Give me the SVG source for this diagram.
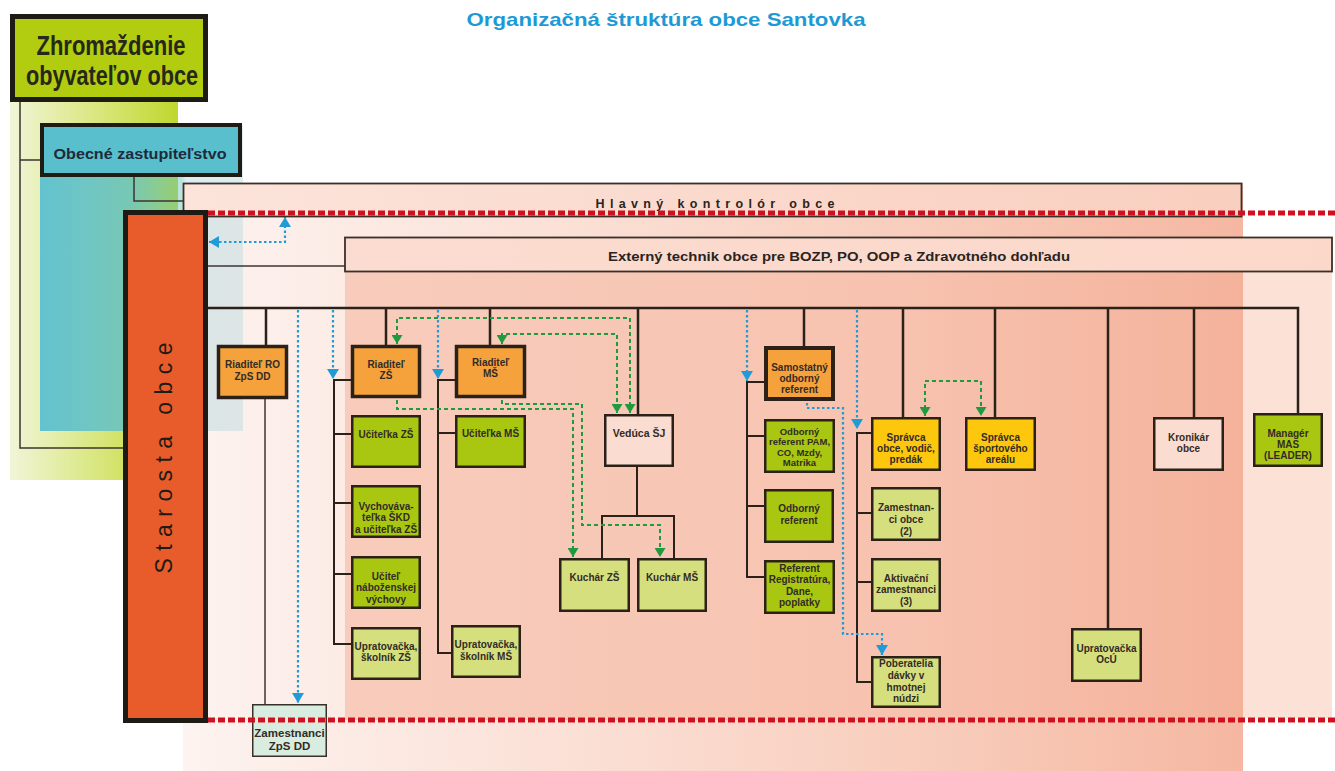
<svg xmlns="http://www.w3.org/2000/svg" width="1335" height="771" viewBox="0 0 1335 771">
<defs>
<linearGradient id="gGreen" x1="0" y1="0" x2="1" y2="0"><stop offset="0" stop-color="#f1f5d8"/><stop offset="0.55" stop-color="#d7e679"/><stop offset="1" stop-color="#bfd72e"/></linearGradient>
<linearGradient id="gTeal" x1="0" y1="0" x2="1" y2="0"><stop offset="0" stop-color="#5bc0cf" stop-opacity="0.95"/><stop offset="0.45" stop-color="#62c1c8" stop-opacity="0.8"/><stop offset="0.7" stop-color="#6cc3b8" stop-opacity="0.45"/><stop offset="0.72" stop-color="#9fcfd8" stop-opacity="0.35"/><stop offset="1" stop-color="#b8d8de" stop-opacity="0.45"/></linearGradient>
<linearGradient id="gPinkOuter" x1="0" y1="0" x2="1" y2="0"><stop offset="0" stop-color="#fdf3f0"/><stop offset="0.35" stop-color="#fbe1d7"/><stop offset="0.7" stop-color="#f8cdbc"/><stop offset="1" stop-color="#f5b7a1"/></linearGradient>
<linearGradient id="gPinkInner" x1="0" y1="0" x2="1" y2="0"><stop offset="0" stop-color="#f8ccbc"/><stop offset="0.6" stop-color="#f7c3b0"/><stop offset="1" stop-color="#f4b29b"/></linearGradient>
<linearGradient id="gBar" x1="0" y1="0" x2="1" y2="0"><stop offset="0" stop-color="#fce4db"/><stop offset="1" stop-color="#f9cfbf"/></linearGradient>
<linearGradient id="gBar2" x1="0" y1="0" x2="1" y2="0"><stop offset="0" stop-color="#fbdcd0"/><stop offset="1" stop-color="#fbd8ca"/></linearGradient>
<marker id="aB" viewBox="0 0 10 12" refX="10" refY="6" markerWidth="10" markerHeight="12" markerUnits="userSpaceOnUse" orient="auto-start-reverse"><path d="M0,0 L10,6 L0,12 z" fill="#1f9bd7"/></marker>
<marker id="aG" viewBox="0 0 9 11" refX="9" refY="5.5" markerWidth="9" markerHeight="11" markerUnits="userSpaceOnUse" orient="auto-start-reverse"><path d="M0,0 L9,5.5 L0,11 z" fill="#1f9a3e"/></marker>
<style>
.bx{stroke:#2b2118;stroke-width:2.5}
.b3{stroke:#2b2118;stroke-width:3.5}
.or{fill:#f5a23c}
.gr{fill:#a9c710}
.pl{fill:#d6df7e}
.ye{fill:#fcc70d}
.pk{fill:#fbdcd0}
.t{font-family:"Liberation Sans",Arial,sans-serif;font-weight:bold;font-size:10px;fill:#332b25;text-anchor:middle}
.s{font-size:9.5px}
.ln{stroke:#2b2118;stroke-width:2.5;fill:none}
.l2{stroke:#2b2118;stroke-width:2;fill:none}
.thin{stroke:#3c3530;stroke-width:1.5;fill:none}
.blue{stroke:#1f9bd7;stroke-width:2.2;stroke-dasharray:2.5 2.5;fill:none}
.green{stroke:#1f9a3e;stroke-width:2;stroke-dasharray:4 3;fill:none}
.red{stroke:#d0101e;stroke-width:5;stroke-dasharray:7 3;fill:none}
</style>
</defs>

<!-- background layers -->
<g id="background">
<rect x="10" y="100" width="168" height="380" fill="url(#gGreen)"/>
<rect x="183" y="183" width="1060" height="588" fill="url(#gPinkOuter)"/>
<rect x="345" y="237" width="898" height="483" fill="url(#gPinkInner)"/>
<rect x="1243" y="237" width="89" height="481" fill="#fce1d7"/>
<rect x="40" y="125" width="203" height="306" fill="url(#gTeal)"/>
</g>

<text x="666" y="26" font-family="Liberation Sans,Arial,sans-serif" font-weight="bold" font-size="19" fill="#1d9ad6" text-anchor="middle" textLength="399" lengthAdjust="spacingAndGlyphs">Organizačná štruktúra obce Santovka</text>

<!-- connectors -->
<g id="connectors">
<path class="thin" d="M20,100 V448 H123 M20,160 H41 M134,176 V201 H183"/>
<path class="thin" d="M207,266 H345"/>
<path class="ln" d="M207,308 H1298 V413"/>
<path class="ln" d="M266,308 V345 M386,308 V345 M490,308 V345 M638,308 V414 M804,308 V346 M903,308 V417 M995,308 V417 M1108,308 V628 M1194,308 V417"/>
<path class="thin" d="M265,399 V704"/>
<path class="l2" d="M351,380 H334 V644 H351 M334,434 H351 M334,503 H351 M334,574 H351"/>
<path class="l2" d="M455,380 H438 V653 H451 M438,433 H455"/>
<path class="l2" d="M637,467 V516 M602,558 V516 H674 V558"/>
<path class="l2" d="M764,382 H747 V577 H764 M747,436 H764 M747,506 H764"/>
<path class="l2" d="M871,433 H857 V682 H871 M857,513 H871 M857,582 H871"/>
<path class="blue" d="M209,242 H285 V217" marker-start="url(#aB)" marker-end="url(#aB)"/>
<path class="blue" d="M298,310 V703" marker-end="url(#aB)"/>
<path class="blue" d="M333,310 V379" marker-end="url(#aB)"/>
<path class="blue" d="M438,310 V379" marker-end="url(#aB)"/>
<path class="blue" d="M747,310 V381" marker-end="url(#aB)"/>
<path class="blue" d="M857,310 V429" marker-end="url(#aB)"/>
<path class="blue" d="M807,403 V408 H843 V634 H882 V655" marker-end="url(#aB)"/>
<path class="green" d="M397,344 V318 H630 V413" marker-start="url(#aG)" marker-end="url(#aG)"/>
<path class="green" d="M502,344 V334 H617 V413" marker-start="url(#aG)" marker-end="url(#aG)"/>
<path class="green" d="M397,400 V409 H573 V557" marker-end="url(#aG)"/>
<path class="green" d="M502,400 V404 H582 V525 H660 V557" marker-end="url(#aG)"/>
<path class="green" d="M925,416 V381 H981 V416" marker-start="url(#aG)" marker-end="url(#aG)"/>
</g>

<g id="zhromazdenie">
<rect x="12.5" y="16.5" width="193" height="83" fill="#b2cd10" stroke="#1e1a14" stroke-width="5"/>
<text x="111" y="55" font-family="Liberation Sans Narrow,Liberation Sans,Arial,sans-serif" font-weight="bold" font-size="28" fill="#26281a" text-anchor="middle" textLength="149" lengthAdjust="spacingAndGlyphs">Zhromaždenie</text>
<text x="112" y="85" font-family="Liberation Sans Narrow,Liberation Sans,Arial,sans-serif" font-weight="bold" font-size="28" fill="#26281a" text-anchor="middle" textLength="172" lengthAdjust="spacingAndGlyphs">obyvateľov obce</text>
</g>

<g id="zastupitelstvo">
<rect x="42" y="125" width="198" height="50" fill="#5abfcd" stroke="#1e1a14" stroke-width="4"/>
<text x="140" y="159" font-family="Liberation Sans,Arial,sans-serif" font-weight="bold" font-size="14.5" fill="#1c2b3a" text-anchor="middle" textLength="173" lengthAdjust="spacingAndGlyphs">Obecné zastupiteľstvo</text>
</g>

<g id="kontrolor">
<rect x="183.5" y="183.5" width="1058" height="33" fill="url(#gBar)" stroke="#3a302a" stroke-width="1.8"/>
<text x="715" y="208" font-family="Liberation Sans,Arial,sans-serif" font-weight="bold" font-size="12.5" fill="#2a2420" text-anchor="middle" textLength="239" lengthAdjust="spacing">Hlavný kontrolór obce</text>
</g>

<g id="technik">
<rect x="345" y="237.5" width="987" height="34" fill="url(#gBar2)" stroke="#3a302a" stroke-width="1.8"/>
<text x="839" y="261" font-family="Liberation Sans,Arial,sans-serif" font-weight="bold" font-size="13.5" fill="#2a2420" text-anchor="middle" textLength="462" lengthAdjust="spacingAndGlyphs">Externý technik obce pre BOZP, PO, OOP a Zdravotného dohľadu</text>
</g>

<g id="starosta">
<rect x="125.5" y="212.5" width="80" height="508" fill="#e85c2c" stroke="#1e1a14" stroke-width="5"/>
<text transform="translate(172,458) rotate(-90)" x="0" y="0" font-family="Liberation Sans,Arial,sans-serif" font-size="23" fill="#1e1a14" text-anchor="middle" textLength="231" lengthAdjust="spacing">Starosta obce</text>
</g>

<g id="riaditel-ro"><rect class="b3 or" x="218.5" y="346.5" width="68" height="51"/><text class="t"><tspan x="252.5" y="368">Riaditeľ RO</tspan><tspan x="252.5" y="380">ZpS DD</tspan></text></g>
<g id="zamestnanci-zps"><rect x="252.75" y="704.75" width="73.5" height="51.5" fill="#d8ece0" stroke="#3a302a" stroke-width="1.5"/><text class="t" style="font-size:11.5px"><tspan x="289.5" y="737">Zamestnanci</tspan><tspan x="289.5" y="750">ZpS DD</tspan></text></g>

<g id="riaditel-zs"><rect class="b3 or" x="352.5" y="346.5" width="67" height="50"/><text class="t"><tspan x="386" y="368">Riaditeľ</tspan><tspan x="386" y="379">ZŠ</tspan></text></g>
<g id="ucitelka-zs"><rect class="bx gr" x="352.25" y="416.25" width="67.5" height="50.5"/><text class="t" x="386" y="438">Učiteľka ZŠ</text></g>
<g id="vychovavatelka"><rect class="bx gr" x="352.25" y="486.25" width="67.5" height="50.5"/><text class="t"><tspan x="386" y="510">Vychováva-</tspan><tspan x="386" y="521">teľka ŠKD</tspan><tspan x="386" y="533">a učiteľka ZŠ</tspan></text></g>
<g id="ucitel-nabozenskej"><rect class="bx gr" x="352.25" y="557.25" width="67.5" height="50.5"/><text class="t"><tspan x="386" y="580">Učiteľ</tspan><tspan x="386" y="591">náboženskej</tspan><tspan x="386" y="603">výchovy</tspan></text></g>
<g id="upratovacka-zs"><rect class="bx pl" x="352.25" y="628.25" width="67.5" height="50.5"/><text class="t"><tspan x="386" y="650">Upratovačka,</tspan><tspan x="386" y="661">školník ZŠ</tspan></text></g>

<g id="riaditel-ms"><rect class="b3 or" x="456.5" y="346.5" width="68" height="50"/><text class="t"><tspan x="490.5" y="366">Riaditeľ</tspan><tspan x="490.5" y="377">MŠ</tspan></text></g>
<g id="ucitelka-ms"><rect class="bx gr" x="456.25" y="416.25" width="68.5" height="50.5"/><text class="t" x="490.5" y="437">Učiteľka MŠ</text></g>
<g id="upratovacka-ms"><rect class="bx pl" x="452.25" y="626.25" width="67.5" height="50.5"/><text class="t"><tspan x="486" y="648">Upratovačka,</tspan><tspan x="486" y="660">školník MŠ</tspan></text></g>

<g id="veduca-sj"><rect class="bx pk" x="605.25" y="415.25" width="67.5" height="50.5"/><text class="t" style="font-size:10.5px" x="639" y="437">Vedúca ŠJ</text></g>
<g id="kuchar-zs"><rect class="bx pl" x="560.25" y="559.25" width="68.5" height="51.5"/><text class="t" x="594.5" y="581">Kuchár ZŠ</text></g>
<g id="kuchar-ms"><rect class="bx pl" x="638.25" y="559.25" width="67.5" height="51.5"/><text class="t" x="672" y="581">Kuchár MŠ</text></g>

<g id="samostatny-referent"><rect x="766" y="348" width="67" height="51" class="or" stroke="#2b2118" stroke-width="4"/><text class="t"><tspan x="799.5" y="371">Samostatný</tspan><tspan x="799.5" y="382">odborný</tspan><tspan x="799.5" y="393">referent</tspan></text></g>
<g id="odborny-referent-pam"><rect class="bx gr" x="765.25" y="420.25" width="68.5" height="51.5"/><text class="t s"><tspan x="799.5" y="434.5">Odborný</tspan><tspan x="799.5" y="445">referent PAM,</tspan><tspan x="799.5" y="455.5">CO, Mzdy,</tspan><tspan x="799.5" y="466">Matrika</tspan></text></g>
<g id="odborny-referent"><rect class="bx gr" x="765.25" y="490.25" width="67.5" height="51.5"/><text class="t"><tspan x="799" y="512">Odborný</tspan><tspan x="799" y="524">referent</tspan></text></g>
<g id="referent-registratura"><rect class="bx gr" x="765.25" y="561.25" width="68.5" height="51.5"/><text class="t"><tspan x="799.5" y="572">Referent</tspan><tspan x="799.5" y="583">Registratúra,</tspan><tspan x="799.5" y="595">Dane,</tspan><tspan x="799.5" y="606">poplatky</tspan></text></g>

<g id="spravca-obce"><rect class="bx ye" x="872.25" y="418.25" width="67.5" height="51.5"/><text class="t"><tspan x="906" y="441">Správca</tspan><tspan x="906" y="452">obce, vodič,</tspan><tspan x="906" y="463">predák</tspan></text></g>
<g id="zamestnanci-obce"><rect class="bx pl" x="872.25" y="488.25" width="67.5" height="51.5"/><text class="t"><tspan x="906" y="511">Zamestnan-</tspan><tspan x="906" y="523">ci obce</tspan><tspan x="906" y="535">(2)</tspan></text></g>
<g id="aktivacni"><rect class="bx pl" x="872.25" y="559.25" width="67.5" height="51.5"/><text class="t"><tspan x="906" y="582">Aktivační</tspan><tspan x="906" y="593">zamestnanci</tspan><tspan x="906" y="605">(3)</tspan></text></g>
<g id="poberatelia"><rect class="bx pl" x="872.25" y="657.25" width="67.5" height="49.5"/><text class="t"><tspan x="906" y="667">Poberatelia</tspan><tspan x="906" y="679">dávky v</tspan><tspan x="906" y="691">hmotnej</tspan><tspan x="906" y="702">núdzi</tspan></text></g>
<g id="spravca-sportoveho"><rect class="bx ye" x="966.25" y="418.25" width="68.5" height="51.5"/><text class="t"><tspan x="1000.5" y="441">Správca</tspan><tspan x="1000.5" y="452">športového</tspan><tspan x="1000.5" y="463">areálu</tspan></text></g>
<g id="upratovacka-ocu"><rect class="bx pl" x="1072.25" y="629.25" width="68.5" height="51.5"/><text class="t"><tspan x="1106.5" y="652">Upratovačka</tspan><tspan x="1106.5" y="663">OcÚ</tspan></text></g>
<g id="kronikar"><rect class="bx pk" x="1154.25" y="418.25" width="68.5" height="51.5"/><text class="t"><tspan x="1188.5" y="441">Kronikár</tspan><tspan x="1188.5" y="452">obce</tspan></text></g>
<g id="manager-mas"><rect class="bx gr" x="1254.25" y="414.25" width="67.5" height="51.5"/><text class="t"><tspan x="1288" y="437">Managér</tspan><tspan x="1288" y="448">MAS</tspan><tspan x="1288" y="459">(LEADER)</tspan></text></g>

<g id="boundaries">
<path class="red" d="M208,213 H1335"/>
<path class="red" d="M208,720 H1335"/>
</g>
</svg>
